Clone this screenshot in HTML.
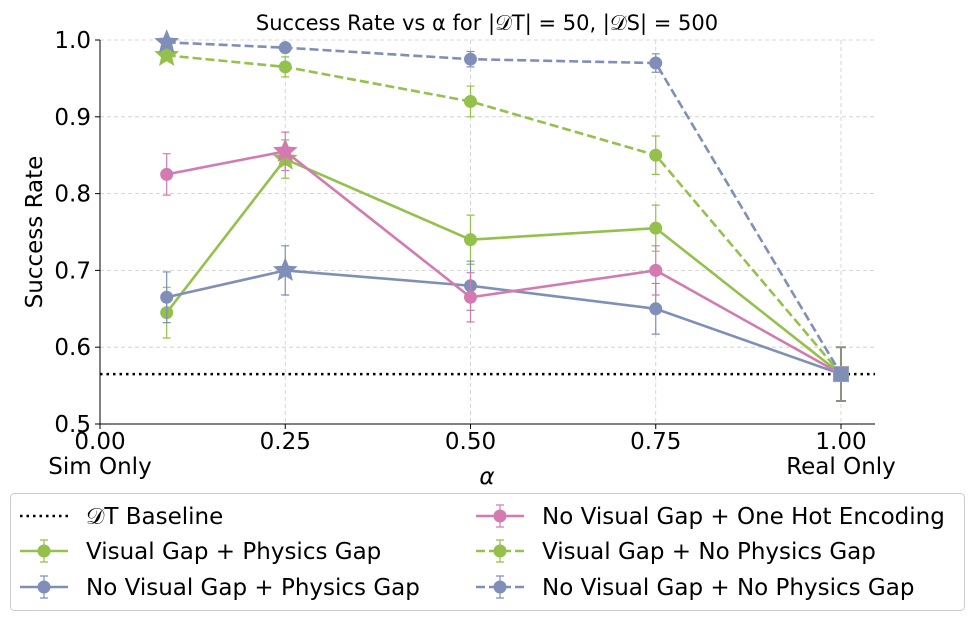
<!DOCTYPE html>
<html><head><meta charset="utf-8"><style>
body{margin:0;background:#fff;font-family:"Liberation Sans","DejaVu Sans",sans-serif}
svg text{font-family:"DejaVu Sans","Liberation Sans",sans-serif}
</style></head><body>
<svg id="c" width="975" height="621" xmlns="http://www.w3.org/2000/svg"></svg>
<script>
const alphas=[0.09,0.25,0.5,0.75,1.0];
const seriesNames=["Visual Gap + Physics Gap","No Visual Gap + Physics Gap","No Visual Gap + One Hot Encoding","Visual Gap + No Physics Gap","No Visual Gap + No Physics Gap"];
const vgpg=[0.645,0.845,0.74,0.755,0.565];
const vgpgErr=[0.033,0.025,0.032,0.03,0.035];
const nvpg=[0.665,0.70,0.68,0.65,0.565];
const nvpgErr=[0.033,0.032,0.032,0.033,0.035];
const onehot=[0.825,0.855,0.665,0.70,0.565];
const onehotErr=[0.027,0.025,0.032,0.032,0.035];
const vgnp=[0.98,0.965,0.92,0.85,0.565];
const vgnpErr=[0.005,0.013,0.02,0.025,0.035];
const nvnp=[0.997,0.99,0.975,0.97,0.565];
const nvnpErr=[0.004,0.004,0.01,0.012,0.035];
const baseline=0.565;
const xTicks=[0,0.25,0.5,0.75,1.0];
const xTickLabels=["0.00","0.25","0.50","0.75","1.00"];
const yTicks=[0.5,0.6,0.7,0.8,0.9,1.0];
const yTickLabels=["0.5","0.6","0.7","0.8","0.9","1.0"];

const X0=100,X1=875,Y0=424,Y1=40;
const xmin=0,xmax=1.0459,ymin=0.5,ymax=1.0;
const sx=v=>X0+(v-xmin)/(xmax-xmin)*(X1-X0);
const sy=v=>Y0-(v-ymin)/(ymax-ymin)*(Y0-Y1);
const svg=document.getElementById('c');
const NS="http://www.w3.org/2000/svg";
function mk(t,a,txt){const e=document.createElementNS(NS,t);for(const k in a)e.setAttribute(k,a[k]);if(txt!==undefined)e.textContent=txt;svg.appendChild(e);return e;}

xTicks.forEach((t,i)=>{
 const g=mk('line',{x1:sx(t),x2:sx(t),y1:Y1,y2:Y0,stroke:'#ccc','stroke-dasharray':'4,3','stroke-width':0.8});
 
 
 const tk=mk('line',{x1:sx(t),x2:sx(t),y1:Y0,y2:Y0+5,stroke:'#000'});
 
 
 const l=mk('text',{x:sx(t),y:Y0+25,'font-size':23,'text-anchor':'middle'},xTickLabels[i]);
 
 
});
yTicks.forEach((t,i)=>{
 const g=mk('line',{x1:X0,x2:X1,y1:sy(t),y2:sy(t),stroke:'#ccc','stroke-dasharray':'4,3','stroke-width':0.8});
 
 
 const tk=mk('line',{x1:X0-5,x2:X0,y1:sy(t),y2:sy(t),stroke:'#000'});
 
 
 const l=mk('text',{x:X0-9,y:sy(t)+8,'font-size':23,'text-anchor':'end'},yTickLabels[i]);
 
 
});
const ax=mk('path',{d:`M${X0},${Y1}V${Y0}H${X1}`,fill:'none',stroke:'#000','stroke-width':1});



const bl=mk('line',{x1:X0,x2:X1,y1:sy(baseline),y2:sy(baseline),stroke:'#000','stroke-width':2.5,'stroke-dasharray':'2.5,4'});



function star(cx,cy,r){let p=[];for(let i=0;i<10;i++){const a=-Math.PI/2+i*Math.PI/5;const rr=i%2?r*0.45:r;p.push((cx+rr*Math.cos(a)).toFixed(1)+','+(cy+rr*Math.sin(a)).toFixed(1));}return p.join(' ');}

const defs=[
 {v:vgpg,e:vgpgErr,c:'#93c14b',d:null,n:'series-visual-physics-gap'},
 {v:nvpg,e:nvpgErr,c:'#7f8fb8',d:null,n:'series-no-visual-physics-gap'},
 {v:onehot,e:onehotErr,c:'#d37bb0',d:null,n:'series-one-hot'},
 {v:vgnp,e:vgnpErr,c:'#93c14b',d:'9,4',n:'series-visual-no-physics-gap'},
 {v:nvnp,e:nvnpErr,c:'#7f8fb8',d:'9,4',n:'series-no-visual-no-physics-gap'}];
defs.forEach(s=>{
 const pts=alphas.map((a,i)=>sx(a)+','+sy(s.v[i])).join(' ');
 const pl=mk('polyline',{points:pts,fill:'none',stroke:s.c,'stroke-width':2.6});
 if(s.d)pl.setAttribute('stroke-dasharray',s.d);
 
 
 let best=0;for(let i=1;i<4;i++)if(s.v[i]>s.v[best])best=i;
 for(let i=0;i<4;i++){
  const x=sx(alphas[i]),y=s.v[i];
  const eb=mk('path',{d:`M${x},${sy(y-s.e[i])}V${sy(y+s.e[i])}M${x-4},${sy(y-s.e[i])}h8M${x-4},${sy(y+s.e[i])}h8`,stroke:s.c,'stroke-width':1.2,fill:'none'});
  
  
  let m;
  if(i===best)m=mk('polygon',{points:star(x,sy(y),13),fill:s.c});
  else m=mk('circle',{cx:x,cy:sy(y),r:6.5,fill:s.c});
  
  
 }
});
{
 const x=sx(1.0),y=nvpg[4],e=nvpgErr[4];
 const eb=mk('path',{d:`M${x},${sy(y-e)}V${sy(y+e)}M${x-5},${sy(y-e)}h10M${x-5},${sy(y+e)}h10`,stroke:'#8a9180','stroke-width':2,fill:'none'});
 
 
 const r=mk('rect',{x:x-7.5,y:sy(y)-7.5,width:15,height:15,fill:'#7f8fb8',stroke:'#9aa0a8','stroke-width':1});
 
 
}
const t=mk('text',{x:487,y:30,'font-size':21,'text-anchor':'middle'},'Success Rate vs α for |𝒟T| = 50, |𝒟S| = 500');


const yl=mk('text',{x:0,y:0,'font-size':23,'text-anchor':'middle',transform:`translate(42,232) rotate(-90)`},'Success Rate');


const xl=mk('text',{x:487,y:484,'font-size':23,'text-anchor':'middle','font-style':'italic'},'α');


const s1=mk('text',{x:100,y:474,'font-size':23,'text-anchor':'middle'},'Sim Only');


const s2=mk('text',{x:841,y:474,'font-size':23,'text-anchor':'middle'},'Real Only');



const lb=mk('rect',{x:10.5,y:493.5,width:954,height:117,rx:4,fill:'#fff',stroke:'#ccc'});


const leg=[
 {x:20,y:516,c:'#000',d:'2.5,4',t:'𝒟T Baseline',m:false},
 {x:20,y:551,c:'#93c14b',d:null,t:seriesNames[0],m:true},
 {x:20,y:587,c:'#7f8fb8',d:null,t:seriesNames[1],m:true},
 {x:476,y:516,c:'#d37bb0',d:null,t:seriesNames[2],m:true},
 {x:476,y:551,c:'#93c14b',d:'9,4',t:seriesNames[3],m:true},
 {x:476,y:587,c:'#7f8fb8',d:'9,4',t:seriesNames[4],m:true}];
leg.forEach(l=>{
 const ln=mk('line',{x1:l.x,x2:l.x+48,y1:l.y,y2:l.y,stroke:l.c,'stroke-width':2.6});
 if(l.d)ln.setAttribute('stroke-dasharray',l.d);
 
 
 if(l.m){
  const eb=mk('path',{d:`M${l.x+24},${l.y-11}V${l.y+11}M${l.x+20},${l.y-11}h8M${l.x+20},${l.y+11}h8`,stroke:l.c,'stroke-width':1.2,fill:'none'});
  
  
  const c=mk('circle',{cx:l.x+24,cy:l.y,r:6.5,fill:l.c});
  
  
 }
 const tx=mk('text',{x:l.x+66,y:l.y+8,'font-size':23},l.t);
 
 
});
</script>
</body></html>
